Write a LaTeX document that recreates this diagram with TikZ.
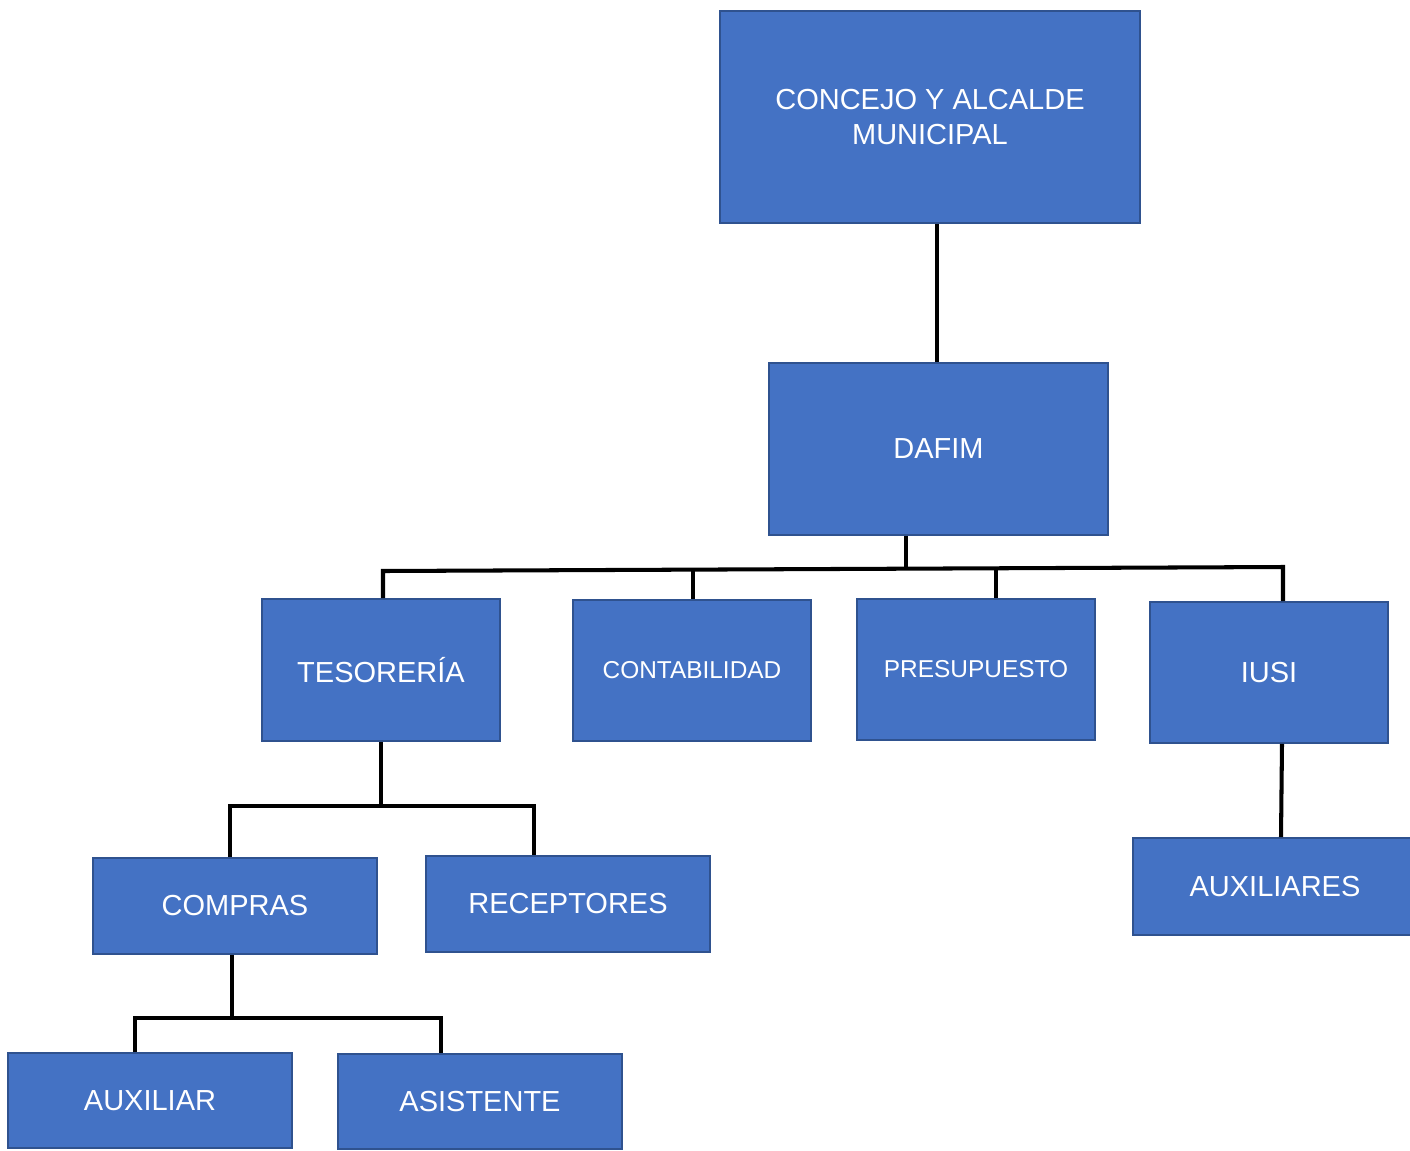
\documentclass[tikz,border=0pt]{standalone}
\usepackage{fontspec}
\setmainfont{Liberation Sans}
\usepackage{tikz}
\usetikzlibrary{positioning,calc}

\definecolor{boxfill}{HTML}{4472C4}
\definecolor{boxline}{HTML}{2F528F}

\begin{document}
\begin{tikzpicture}[
  x=0.02cm, y=-0.02cm,
  unidad/.style={draw=boxline, fill=boxfill, line width=1.1pt, text=white,
    inner sep=0pt, align=center, font=\fontsize{16.5}{19.5}\selectfont},
  chica/.style={font=\fontsize{13.9}{16}\selectfont},
  conn/.style={draw=black, line width=2.3pt}
]
  \useasboundingbox (0,0) rectangle (1410,1150);

  % top levels
  \node[unidad, minimum width=8.4cm, minimum height=4.24cm] (concejo) at (930,117)
    {CONCEJO Y ALCALDE\\MUNICIPAL};
  \node[unidad, minimum width=6.78cm, minimum height=3.44cm] (dafim) at (938.5,449) {DAFIM};

  % departments
  \node[unidad, minimum width=4.76cm, minimum height=2.84cm] (tesoreria) at (381,670) {TESORERÍA};
  \node[unidad, chica, minimum width=4.76cm, minimum height=2.82cm] (contab) at (692,670.5) {CONTABILIDAD};
  \node[unidad, chica, minimum width=4.76cm, minimum height=2.82cm] (presup) at (976,669.5) {PRESUPUESTO};
  \node[unidad, minimum width=4.76cm, minimum height=2.82cm] (iusi) at (1269,672.5) {IUSI};

  % sections
  \node[unidad, minimum width=5.68cm, minimum height=1.92cm] (compras) at (235,906) {COMPRAS};
  \node[unidad, minimum width=5.68cm, minimum height=1.92cm] (receptores) at (568,904) {RECEPTORES};
  \node[unidad, minimum width=5.68cm, minimum height=1.9cm] (auxiliar) at (150,1100.5) {AUXILIAR};
  \node[unidad, minimum width=5.68cm, minimum height=1.9cm] (asistente) at (480,1101.5) {ASISTENTE};
  \node[unidad, minimum width=5.68cm, minimum height=1.94cm] (auxiliares) at (1275,886.5) {AUXILIARES};

  % bus points
  \coordinate (busL) at (383,571);
  \coordinate (busR) at (1283,567);
  \coordinate (busC) at (693,570);
  \coordinate (busP) at (996,568);
  \coordinate (busD) at (906,569);
  \coordinate (tesL) at (230,806);
  \coordinate (tesR) at (534,806);
  \coordinate (comL) at (135,1018);
  \coordinate (comR) at (441,1018);

  % connectors
  \draw[conn] (concejo.south -| 937,0) -- (dafim.north -| 937,0);
  \draw[conn] (dafim.south -| busD) -- (busD);
  \draw[conn] (tesoreria.north -| busL) -- (busL) -- (busR) -- (iusi.north -| busR);
  \draw[conn] (busC) -- (contab.north -| busC);
  \draw[conn] (busP) -- (presup.north -| busP);

  \draw[conn] (tesoreria.south) -- (tesoreria.south |- tesL);
  \draw[conn] (compras.north -| tesL) -- (tesL) -- (tesR) -- (receptores.north -| tesR);

  \draw[conn] (compras.south -| 232,0) -- (232,1018);
  \draw[conn] (auxiliar.north -| comL) -- (comL) -- (comR) -- (asistente.north -| comR);

  \draw[conn] (iusi.south -| 1282,0) -- (auxiliares.north -| 1281,0);
\end{tikzpicture}
\end{document}
